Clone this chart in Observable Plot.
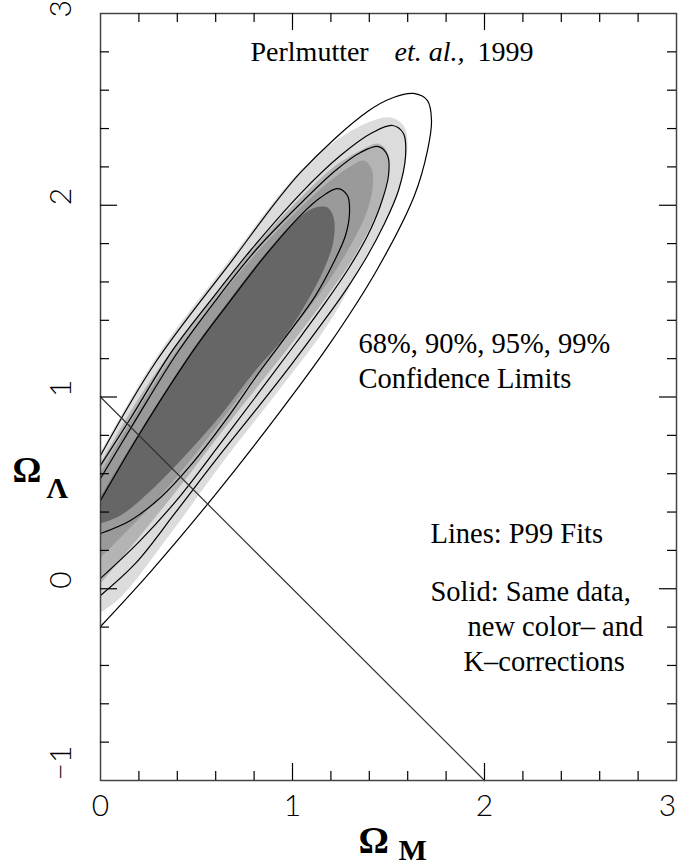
<!DOCTYPE html>
<html><head><meta charset="utf-8">
<script src="https://cdn.jsdelivr.net/npm/d3@7"></script>
<script src="https://cdn.jsdelivr.net/npm/@observablehq/plot@0.6"></script>
<style>body{margin:0;background:#fff}svg{display:block}</style>
</head><body><div id="chart"></div>
<script>
// Confidence regions (filled), points [Ω_M, Ω_Λ]
const fill99 = [[0,0.711],[0.286,1.201],[0.677,1.722],[1.042,2.181],[1.250,2.353],[1.406,2.437],[1.510,2.458],[1.578,2.416],[1.599,2.312],[1.552,2.077],[1.474,1.894],[1.380,1.728],[1.188,1.383],[0.948,1.060],[0.651,0.679],[0.365,0.288],[0.104,-0.046],[0,-0.124]];
const fill95 = [[0,0.653],[0.208,1.008],[0.417,1.305],[0.625,1.571],[0.833,1.816],[1.042,2.040],[1.224,2.207],[1.354,2.286],[1.443,2.322],[1.490,2.286],[1.500,2.181],[1.469,2.035],[1.396,1.868],[1.302,1.701],[1.172,1.514],[1.016,1.305],[0.823,1.060],[0.625,0.810],[0.417,0.538],[0.208,0.278],[0,0.027]];
const fill90 = [[0,0.601],[0.208,0.956],[0.417,1.269],[0.625,1.529],[0.833,1.774],[1.042,1.988],[1.198,2.129],[1.302,2.202],[1.370,2.233],[1.411,2.192],[1.417,2.087],[1.380,1.947],[1.302,1.790],[1.198,1.618],[1.068,1.441],[0.911,1.243],[0.729,1.008],[0.521,0.737],[0.313,0.486],[0.156,0.320],[0,0.163]];
const fill68 = [[0,0.476],[0.208,0.825],[0.484,1.253],[0.677,1.514],[0.859,1.748],[1.016,1.921],[1.120,1.988],[1.182,1.988],[1.214,1.936],[1.214,1.816],[1.172,1.686],[1.094,1.529],[0.964,1.321],[0.807,1.138],[0.625,0.904],[0.417,0.669],[0.234,0.486],[0.104,0.382],[0,0.340]];
// P99 fit contour lines
const line99 = [[0,0.695],[0.286,1.180],[0.677,1.701],[1.042,2.171],[1.391,2.489],[1.526,2.562],[1.630,2.583],[1.703,2.546],[1.724,2.442],[1.703,2.285],[1.635,2.051],[1.438,1.660],[1.188,1.269],[0.901,0.878],[0.594,0.486],[0.266,0.095],[0,-0.197]];
const line95 = [[0,0.643],[0.156,0.888],[0.375,1.243],[0.573,1.503],[0.781,1.764],[1.042,2.061],[1.250,2.259],[1.417,2.379],[1.521,2.416],[1.578,2.374],[1.589,2.259],[1.552,2.077],[1.474,1.894],[1.391,1.738],[1.276,1.555],[1.146,1.373],[0.990,1.164],[0.807,0.930],[0.599,0.669],[0.391,0.398],[0.182,0.132],[0,-0.035]];
const line90 = [[0,0.575],[0.182,0.878],[0.401,1.232],[0.599,1.503],[0.807,1.764],[1.042,2.009],[1.224,2.181],[1.354,2.275],[1.448,2.306],[1.495,2.259],[1.500,2.155],[1.458,1.999],[1.391,1.842],[1.292,1.670],[1.172,1.493],[1.016,1.279],[0.833,1.034],[0.625,0.758],[0.417,0.486],[0.208,0.252],[0,0.054]];
const line68 = [[0,0.460],[0.208,0.815],[0.484,1.243],[0.677,1.503],[0.859,1.738],[1.042,1.947],[1.146,2.040],[1.234,2.087],[1.286,2.051],[1.297,1.962],[1.276,1.842],[1.214,1.701],[1.120,1.529],[0.990,1.347],[0.833,1.138],[0.651,0.878],[0.469,0.643],[0.313,0.476],[0.156,0.356],[0,0.288]];
// flat universe line Ω_M + Ω_Λ = 1
const flatLine = [[0,1],[2,-1]];
// ticks
const xMinorTicks = [0.2,0.4,0.6,0.8,1.2,1.4,1.6,1.8,2.2,2.4,2.6,2.8];
const xMajorTicks = [1,2];
const yMinorTicks = [-0.8,-0.6,-0.4,-0.2,0.2,0.4,0.6,0.8,1.2,1.4,1.6,1.8,2.2,2.4,2.6,2.8];
const yMajorTicks = [0,1,2];
const xTickLabels = [0,1,2];
const xEdgeLabels = [3];
const yTickLabels = [-1,0,1,2];
const yEdgeLabels = [3];

const W = 684, H = 867, mL = 100, mR = 8, mT = 13, mB = 87;
const fw = W - mL - mR, fh = H - mT - mB;
const minorLen = 9, majorLen = 17;
const serif = "'Liberation Serif','Times New Roman',serif";
const thin = "Lato,'DejaVu Sans',sans-serif";
const xy = {x: d => d[0], y: d => d[1]};
const fmt = d => d < 0 ? "\u2212" + Math.abs(d) : String(d);
const tickText = {text: fmt, fontFamily: thin, fontWeight: 300, fontSize: 30, fill: "#000"};

const note = (text, dx, dy, extra = {}) => Plot.text([text], {
  frameAnchor: "top-left", dx, dy, text: d => d, textAnchor: "start", lineAnchor: "bottom",
  fontFamily: serif, fontSize: 28.5, fill: "#000", ...extra
});

const plot = Plot.plot({
  width: W, height: H,
  marginLeft: mL, marginRight: mR, marginTop: mT, marginBottom: mB,
  x: {domain: [0, 3], axis: null},
  y: {domain: [-1, 3], axis: null},
  style: {background: "#fff", color: "#000"},
  marks: [
    Plot.line(fill99, {...xy, fill: "#dcdcdc", stroke: "none", curve: "catmull-rom", clip: true}),
    Plot.line(fill95, {...xy, fill: "#b4b4b4", stroke: "none", curve: "catmull-rom", clip: true}),
    Plot.line(fill90, {...xy, fill: "#9a9a9a", stroke: "none", curve: "catmull-rom", clip: true}),
    Plot.line(fill68, {...xy, fill: "#666666", stroke: "none", curve: "catmull-rom", clip: true}),
    Plot.line(line99, {...xy, stroke: "#000", strokeWidth: 1.2, curve: "catmull-rom", clip: true}),
    Plot.line(line95, {...xy, stroke: "#000", strokeWidth: 1.2, curve: "catmull-rom", clip: true}),
    Plot.line(line90, {...xy, stroke: "#000", strokeWidth: 1.2, curve: "catmull-rom", clip: true}),
    Plot.line(line68, {...xy, stroke: "#000", strokeWidth: 1.2, curve: "catmull-rom", clip: true}),
    Plot.line(flatLine, {...xy, stroke: "#333", strokeWidth: 1.2}),
    Plot.frame({stroke: "#444", strokeWidth: 1.5}),
    // inward ticks, four sides
    Plot.tickX(xMinorTicks, {x: d => d, insetTop: fh - minorLen, stroke: "#000", strokeWidth: 1.2}),
    Plot.tickX(xMajorTicks, {x: d => d, insetTop: fh - majorLen, stroke: "#000", strokeWidth: 1.2}),
    Plot.tickX(xMinorTicks, {x: d => d, insetBottom: fh - minorLen, stroke: "#000", strokeWidth: 1.2}),
    Plot.tickX(xMajorTicks, {x: d => d, insetBottom: fh - majorLen, stroke: "#000", strokeWidth: 1.2}),
    Plot.tickY(yMinorTicks, {y: d => d, insetRight: fw - minorLen, stroke: "#000", strokeWidth: 1.2}),
    Plot.tickY(yMajorTicks, {y: d => d, insetRight: fw - majorLen, stroke: "#000", strokeWidth: 1.2}),
    Plot.tickY(yMinorTicks, {y: d => d, insetLeft: fw - minorLen, stroke: "#000", strokeWidth: 1.2}),
    Plot.tickY(yMajorTicks, {y: d => d, insetLeft: fw - majorLen, stroke: "#000", strokeWidth: 1.2}),
    // tick labels
    Plot.text(xTickLabels, {x: d => d, frameAnchor: "bottom", dy: 35, ...tickText}),
    Plot.text(xEdgeLabels, {x: d => d, frameAnchor: "bottom", dy: 35, dx: -9, ...tickText}),
    Plot.text(yTickLabels, {y: d => d, frameAnchor: "left", dx: -39, rotate: -90, ...tickText}),
    Plot.text(yEdgeLabels, {y: d => d, frameAnchor: "left", dx: -39, dy: 4, rotate: -90, ...tickText}),
    // axis titles
    note("\u03A9", 258, 839, {fontSize: 38, fontWeight: "bold"}),
    note("M", 298, 846, {fontSize: 30, fontWeight: "bold"}),
    note("\u03A9", -88, 468, {fontSize: 36, fontWeight: "bold"}),
    note("\u039B", -54, 484, {fontSize: 30, fontWeight: "bold"}),
    // annotations
    note("Perlmutter", 150, 47, {fontSize: 28}),
    note("et. al.,", 294, 47, {fontSize: 28, fontStyle: "italic"}),
    note("1999", 377, 47, {fontSize: 28}),
    note("68%, 90%, 95%, 99%", 258, 339),
    note("Confidence Limits", 258, 374),
    note("Lines: P99 Fits", 330, 529),
    note("Solid: Same data,", 330, 587),
    note("new color\u2013 and", 367, 622),
    note("K\u2013corrections", 363, 657)
  ]
});
document.getElementById("chart").appendChild(plot);
</script></body></html>
